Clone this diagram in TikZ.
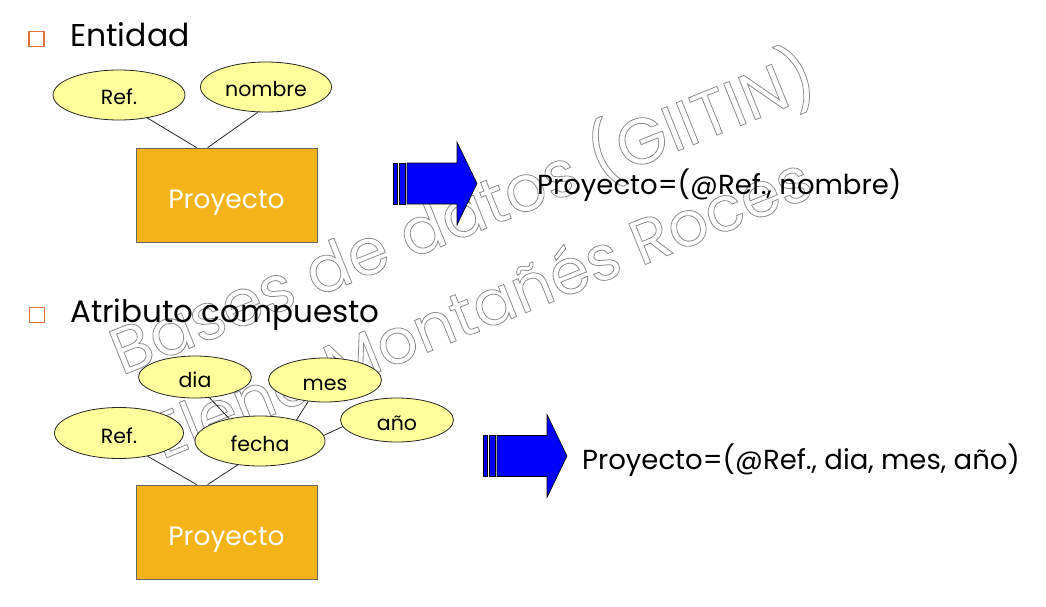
\documentclass[tikz,border=0pt]{standalone}
\usepackage{fontspec}
\setmainfont{Poppins}
\usetikzlibrary{shapes.geometric}
\definecolor{attrfill}{HTML}{FFFF9C}
\definecolor{entfill}{HTML}{F5B31A}
\definecolor{bulletc}{HTML}{E0703C}
\definecolor{arrowblue}{HTML}{0000FF}
\definecolor{wmgray}{HTML}{8C8C8C}
\tikzset{
  attr/.style={ellipse, draw=black!85, fill=attrfill, line width=0.8pt,
    minimum width=#1, minimum height=44pt, inner sep=0pt,
    text height=20pt, text depth=0pt,
    font=\fontsize{20.5}{20.5}\selectfont},
  ent/.style={rectangle, draw=black!60, fill=entfill, line width=0.8pt,
    minimum width=181pt, minimum height=94pt, inner sep=0pt, text=white,
    text height=26pt, text depth=0pt,
    font=\fontsize{26.5}{26.5}\selectfont},
  link/.style={draw=black!85, line width=0.8pt},
  heading/.style={anchor=base west, inner sep=0pt, font=\fontsize{31.5}{31.5}\selectfont},
  bulletbox/.style={draw=bulletc, line width=1.2pt, minimum size=15pt, inner sep=0pt},
  arrowpart/.style={draw=black, fill=arrowblue, line width=0.6pt},
  rel/.style={anchor=west, inner sep=0pt, font=\fontsize{27.5}{27.5}\selectfont},
  wm/.style={rotate=22, inner sep=0pt, text=wmgray, font=\fontsize{#1}{#1}\selectfont}
}
\newcommand{\outlinetext}[1]{\special{pdf:code 1 Tr 0.8 w}#1\special{pdf:code 0 Tr 0.4 w}}
\newcommand{\bluearrow}[2]{%
  \begin{scope}[shift={(#1,#2)}]
    \filldraw[arrowpart] (0,-20.5) rectangle (4,20.5);
    \filldraw[arrowpart] (6,-20.5) rectangle (12,20.5);
    \filldraw[arrowpart] (14,-20.5) -- (64,-20.5) -- (64,-41.5) -- (84,0) -- (64,41.5) -- (64,20.5) -- (14,20.5) -- cycle;
  \end{scope}}
\begin{document}
\begin{tikzpicture}[x=1pt,y=-1pt]
\useasboundingbox[fill=white] (0,0) rectangle (1046,607);

% ---------- watermark (behind the diagram) ----------
\begin{scope}
\node[wm=65] (wm1) at (462,212) {\outlinetext{Bases de datos (GIITIN)}};
\node[wm=63] (wm2) at (480,305) {\outlinetext{Elena Montañés Roces}};
\end{scope}

% ---------- Entidad ----------
\node[bulletbox] (b1) at (36.5,39) {};
\node[heading] (h1) at (70,47) {Entidad};
\node[attr=132pt, minimum height=50pt] (ref1) at (119,95) {Ref.};
\node[attr=131pt, minimum height=50pt] (nom1) at (266,87) {nombre};
\node[ent] (p1) at (226.5,195) {Proyecto};
\draw[link] (ref1.-39) -- ([xshift=61pt]p1.north west);
\draw[link] (nom1.-108) -- ([xshift=72pt]p1.north west);
\bluearrow{393}{183.5}
\node[rel] (r1) at (537,185) {Proyecto=(@Ref., nombre)};

% ---------- Atributo compuesto ----------
\node[bulletbox] (b2) at (37,315) {};
\node[heading, font=\fontsize{31}{31}\selectfont] (h2) at (70,322) {Atributo compuesto};
\node[attr=129pt, minimum height=51pt] (ref2) at (119,433) {Ref.};
\node[attr=113pt, minimum height=42pt] (dia) at (195,377) {dia};
\node[attr=113pt, minimum height=44pt] (mes) at (325,380) {mes};
\node[attr=113pt, minimum height=44pt] (anio) at (397,420) {año};
\node[attr=130pt, minimum height=50pt] (fecha) at (260,441) {fecha};
\node[ent] (p2) at (226.5,532) {Proyecto};
\draw[link] (ref2.-39) -- ([xshift=61pt]p2.north west);
\draw[link] (fecha.-133) -- ([xshift=72pt]p2.north west);
\draw[link] (dia.-55) -- (fecha.144);
\draw[link] (mes.-128) -- (fecha.30);
\draw[link] (anio.-173) -- (fecha.5);
\bluearrow{483}{456}
\node[rel] (r2) at (582,460) {Proyecto=(@Ref., dia, mes, año)};
\end{tikzpicture}
\end{document}
